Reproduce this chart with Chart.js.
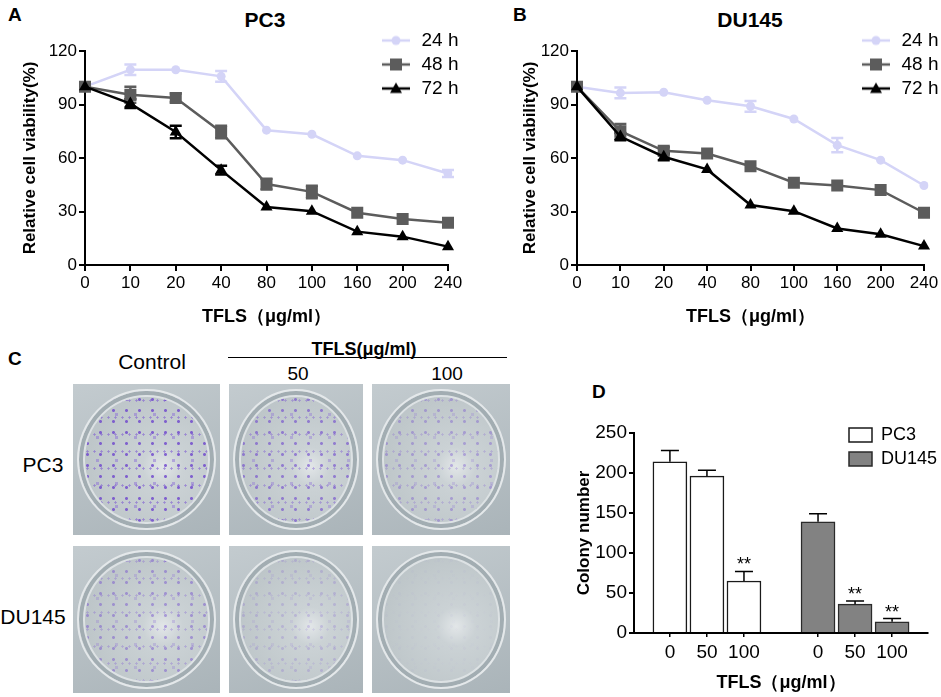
<!DOCTYPE html>
<html>
<head>
<meta charset="utf-8">
<script src="https://cdn.jsdelivr.net/npm/chart.js@4.4.1/dist/chart.umd.min.js"></script>
<style>
  html, body { margin: 0; padding: 0; background: #fff; }
  body { width: 941px; height: 697px; position: relative; overflow: hidden;
         font-family: "Liberation Sans", Arial, sans-serif; color: #000; }
  .box { position: absolute; }
  .txt { position: absolute; line-height: 1; white-space: nowrap; }
  .letter { font-size: 19px; font-weight: bold; }
  .title { font-size: 21px; font-weight: bold; transform: translateX(-50%); }
  .center { transform: translateX(-50%); }
  .photo { position: absolute; overflow: hidden;
           background: linear-gradient(160deg, #c3cbcf, #aab4b9); }
  .dish { position: absolute; left: 3%; top: 3%; width: 94%; height: 94%; border-radius: 50%;
          border: 2px solid #e4e8ea; box-sizing: border-box;
          box-shadow: inset 0 0 0 4px #a2adb2, inset 0 0 0 6px #dde2e4; }
</style>
</head>
<body>

<!-- panel A -->
<div class="txt letter" style="left:8px; top:5px;">A</div>
<div class="txt title" style="left:265px; top:9px;">PC3</div>
<div class="box" style="left:0; top:0; width:470px; height:335px;"><canvas id="chartA"></canvas></div>

<!-- panel B -->
<div class="txt letter" style="left:513px; top:5px;">B</div>
<div class="txt title" style="left:750px; top:9px;">DU145</div>
<div class="box" style="left:500px; top:0; width:441px; height:335px;"><canvas id="chartB"></canvas></div>

<!-- panel C (photographs of colony plates) -->
<div class="txt letter" style="left:8px; top:349px;">C</div>
<div class="txt center" style="left:152px; top:351px; font-size:21px;">Control</div>
<div class="txt center" style="left:364px; top:340px; font-size:18px; font-weight:bold;">TFLS(μg/ml)</div>
<div class="box" style="left:228px; top:357px; width:279px; height:0; border-top:1.5px solid #000;"></div>
<div class="txt center" style="left:298px; top:364px; font-size:19px;">50</div>
<div class="txt center" style="left:447px; top:364px; font-size:19px;">100</div>
<div class="txt center" style="left:43px; top:454px; font-size:21px;">PC3</div>
<div class="txt center" style="left:33px; top:606px; font-size:21px;">DU145</div>
<div id="plates"></div>

<!-- panel D -->
<div class="txt letter" style="left:592px; top:382px;">D</div>
<div class="box" style="left:560px; top:380px; width:381px; height:317px;"><canvas id="chartD"></canvas></div>

<script>
// ---- data: cell viability (%) ----
const doses = ['0', '10', '20', '40', '80', '100', '160', '200', '240'];
const seriesNames = ['24 h', '48 h', '72 h'];

const pc3_24 = [100, 109.5, 109.5, 105.8, 75.6, 73.3, 61.2, 58.8, 51.3];
const pc3_48 = [100, 95.5, 93.7, 74.6, 45.4, 41.0, 29.3, 25.8, 23.7];
const pc3_72 = [100, 90.5, 74.6, 53.2, 32.5, 30.2, 18.7, 15.9, 10.3];
const pc3_24err = [0, 3, 0, 3, 0, 0, 0, 0, 2];
const pc3_48err = [0, 4.5, 2.5, 3.5, 3, 3.5, 0, 0, 0];
const pc3_72err = [0, 2.5, 3.5, 2.5, 0, 0, 0, 0, 0];

const du_24 = [100, 96.5, 96.9, 92.4, 89.0, 81.9, 67.2, 58.8, 44.6];
const du_48 = [100, 75, 64, 62.5, 55.4, 46.1, 44.6, 42.0, 29.3];
const du_72 = [100, 72, 60.7, 53.6, 33.6, 30.2, 20.5, 17.2, 10.6];
const du_24err = [0, 3, 0, 0, 3, 0, 4, 0, 0];
const du_48err = [0, 4, 2, 0, 0, 0, 0, 0, 0];
const du_72err = [0, 2, 2, 0, 0, 0, 0, 0, 0];

const viabilityTicks = [0, 30, 60, 90, 120];

// ---- data: colony formation ----
const colonyDoses = ['0', '50', '100'];
const colonyCells = ['PC3', 'DU145'];
const pc3Colony = [214, 196, 65];
const pc3ColonyErr = [14, 7.5, 12];
const duColony = [139, 36, 14];
const duColonyErr = [10, 4, 4];
const pc3Stars = ['', '', '**'];
const duStars = ['', '**', '**'];

// ---- plates in panel C: relative colony density per photo ----
const plateDensity = [[1.0, 0.75, 0.45], [0.55, 0.25, 0.04]];

const FONT = "'Liberation Sans', Arial, sans-serif";
Chart.defaults.font.family = FONT;
Chart.defaults.color = '#000';
Chart.defaults.animation = false;

const colors = ['#d4d4f7', '#5c5c5c', '#000000'];
const markers = ['circle', 'rect', 'triangle'];
const markerSize = [4.5, 8.5, 7];

// vertical error bars drawn at the data points, through the y scale
const errorBars = {
  id: 'errorBars',
  beforeDatasetsDraw(chart, args, opts) {
    if (opts.upOnly) return;
    drawErrors(chart, opts);
  },
  afterDatasetsDraw(chart, args, opts) {
    if (!opts.upOnly) return;
    drawErrors(chart, opts);
  }
};

function drawErrors(chart, opts) {
  const ctx = chart.ctx;
  const yScale = chart.scales.y;
  chart.data.datasets.forEach((ds, i) => {
    if (!ds.errors) return;
    const meta = chart.getDatasetMeta(i);
    ctx.save();
    ctx.strokeStyle = opts.color || ds.borderColor;
    ctx.lineWidth = opts.lineWidth || 2.5;
    meta.data.forEach((el, j) => {
      const e = ds.errors[j];
      if (!e) return;
      const d = ds.data[j];
      const v = typeof d === 'object' ? d.y : d;
      const top = yScale.getPixelForValue(v + e);
      const bot = yScale.getPixelForValue(opts.upOnly ? v : v - e);
      const w = opts.cap / 2;
      ctx.beginPath();
      ctx.moveTo(el.x, top); ctx.lineTo(el.x, bot);
      ctx.moveTo(el.x - w, top); ctx.lineTo(el.x + w, top);
      if (!opts.upOnly) { ctx.moveTo(el.x - w, bot); ctx.lineTo(el.x + w, bot); }
      ctx.stroke();
      if (ds.stars && ds.stars[j]) {
        ctx.fillStyle = '#000';
        ctx.font = '18px ' + FONT;
        ctx.textAlign = 'center';
        ctx.textBaseline = 'alphabetic';
        ctx.fillText(ds.stars[j], el.x, top - 1);
      }
    });
    ctx.restore();
  });
}

// puts the legend at a fixed spot of the canvas
const placeLegend = {
  id: 'placeLegend',
  afterLayout(chart, args, opts) {
    const lg = chart.legend;
    if (!lg || opts.left === undefined) return;
    const w = lg.width, h = lg.height;
    lg.left = opts.left; lg.top = opts.top;
    lg.right = opts.left + w; lg.bottom = opts.top + h;
  }
};

function legendIcon(i) {
  const c = document.createElement('canvas');
  c.width = 28; c.height = 16;
  const g = c.getContext('2d');
  g.strokeStyle = colors[i];
  g.fillStyle = colors[i];
  g.lineWidth = 2.5;
  g.beginPath(); g.moveTo(0, 8); g.lineTo(28, 8); g.stroke();
  g.beginPath();
  if (markers[i] === 'circle') {
    g.arc(14, 8, 4.5, 0, Math.PI * 2);
  } else if (markers[i] === 'rect') {
    g.rect(8, 2, 12, 12);
  } else {
    g.moveTo(14, 2); g.lineTo(20, 12.5); g.lineTo(8, 12.5); g.closePath();
  }
  g.fill();
  return c;
}
const icons = [0, 1, 2].map(legendIcon);

function viabilityChart(id, values, errors, axisWidth, padRight, legendLeft) {
  const datasets = values.map((vals, i) => ({
    label: seriesNames[i],
    data: vals,
    errors: errors[i],
    borderColor: colors[i],
    backgroundColor: colors[i],
    borderWidth: 2.5,
    pointStyle: markers[i],
    pointRadius: markerSize[i],
    pointBorderWidth: 0,
    pointBackgroundColor: colors[i],
    tension: 0,
    order: 3 - i
  }));
  return new Chart(document.getElementById(id), {
    type: 'line',
    data: { labels: doses, datasets: datasets },
    plugins: [errorBars, placeLegend],
    options: {
      responsive: true,
      maintainAspectRatio: false,
      layout: { padding: { left: 0, top: 51, right: padRight, bottom: 0 } },
      plugins: {
        tooltip: { enabled: false },
        errorBars: { cap: 12, lineWidth: 2.5 },
        placeLegend: { left: legendLeft, top: 26 },
        legend: {
          position: 'chartArea',
          align: 'start',
          labels: {
            usePointStyle: true,
            pointStyleWidth: 32,
            padding: 5,
            font: { size: 19 },
            color: '#000',
            sort: (a, b) => a.datasetIndex - b.datasetIndex,
            generateLabels(chart) {
              const items = Chart.defaults.plugins.legend.labels.generateLabels(chart);
              items.forEach(it => { it.pointStyle = icons[it.datasetIndex]; });
              return items;
            }
          }
        }
      },
      scales: {
        x: {
          type: 'category',
          offset: false,
          afterFit: s => { s.height = 70; },
          grid: { drawOnChartArea: false, drawTicks: true, tickLength: 6, color: '#000', lineWidth: 2 },
          border: { color: '#000', width: 2 },
          ticks: { font: { size: 17 }, padding: 2, maxRotation: 0, autoSkip: false },
          title: { display: true, text: 'TFLS（μg/ml）', font: { size: 18, weight: 'bold' },
                   padding: { top: 0, bottom: 7 } }
        },
        y: {
          min: 0, max: 120,
          afterFit: s => { s.width = axisWidth; },
          afterBuildTicks: s => { s.ticks = viabilityTicks.map(v => ({ value: v })); },
          grid: { drawOnChartArea: false, drawTicks: true, tickLength: 6, color: '#000', lineWidth: 2 },
          border: { color: '#000', width: 2 },
          ticks: { font: { size: 17 }, padding: 2 },
          title: { display: true, text: 'Relative cell viability(%)', font: { size: 17, weight: 'bold' },
                   padding: { top: 20, bottom: 0 } }
        }
      }
    }
  });
}

viabilityChart('chartA', [pc3_24, pc3_48, pc3_72], [pc3_24err, pc3_48err, pc3_72err], 85, 22, 375);
viabilityChart('chartB', [du_24, du_48, du_72], [du_24err, du_48err, du_72err], 77, 17, 355);

// ---- panel D: colony numbers ----
const groupPos = [[0, 1, 2], [4, 5, 6]];
const colonyTickLabels = {};
groupPos.forEach(g => g.forEach((p, k) => { colonyTickLabels[p] = colonyDoses[k]; }));

new Chart(document.getElementById('chartD'), {
  type: 'bar',
  data: {
    datasets: [
      {
        label: colonyCells[0],
        data: pc3Colony.map((v, k) => ({ x: groupPos[0][k], y: v })),
        errors: pc3ColonyErr,
        stars: pc3Stars,
        backgroundColor: '#ffffff',
        borderColor: '#1a1a1a',
        borderWidth: 1.5,
        barThickness: 34,
        grouped: false
      },
      {
        label: colonyCells[1],
        data: duColony.map((v, k) => ({ x: groupPos[1][k], y: v })),
        errors: duColonyErr,
        stars: duStars,
        backgroundColor: '#828282',
        borderColor: '#2a2a2a',
        borderWidth: 1.5,
        barThickness: 34,
        grouped: false
      }
    ]
  },
  plugins: [errorBars, placeLegend],
  options: {
    responsive: true,
    maintainAspectRatio: false,
    layout: { padding: { left: 0, top: 53, right: 13, bottom: 0 } },
    plugins: {
      tooltip: { enabled: false },
      errorBars: { cap: 18, lineWidth: 1.5, upOnly: true, color: '#000' },
      placeLegend: { left: 283, top: 40 },
      legend: {
        position: 'chartArea',
        align: 'start',
        labels: {
          boxWidth: 23,
          boxHeight: 14,
          padding: 6,
          font: { size: 18 },
          color: '#000'
        }
      }
    },
    scales: {
      x: {
        type: 'linear',
        offset: false,
        min: -0.97, max: 6.97,
        afterFit: s => { s.height = 64; },
        afterBuildTicks: s => { s.ticks = Object.keys(colonyTickLabels).map(p => ({ value: Number(p) })); },
        grid: { offset: false, drawOnChartArea: false, drawTicks: true, tickLength: 4, color: '#000', lineWidth: 1.5 },
        border: { color: '#000', width: 2 },
        ticks: { font: { size: 19 }, padding: 4, callback: v => colonyTickLabels[v] },
        title: { display: true, text: 'TFLS（μg/ml）', font: { size: 18, weight: 'bold' },
                 padding: { top: 0, bottom: 3 } }
      },
      y: {
        min: 0, max: 250,
        afterFit: s => { s.width = 74; },
        ticks: { stepSize: 50, font: { size: 19 }, padding: 2 },
        grid: { drawOnChartArea: false, drawTicks: true, tickLength: 5, color: '#000', lineWidth: 2 },
        border: { color: '#000', width: 2 },
        title: { display: true, text: 'Colony number', font: { size: 17, weight: 'bold' },
                 padding: { top: 14, bottom: 0 } }
      }
    }
  }
});

// ---- panel C: plate photos (plain drawing, not chart data) ----
const plateCols = [[73, 147], [229, 134], [372, 138]];
const plateRows = [[384, 151], [546, 147]];
const plates = document.getElementById('plates');
plateRows.forEach((r, ri) => {
  plateCols.forEach((c, ci) => {
    const photo = document.createElement('div');
    photo.className = 'photo';
    photo.style.left = c[0] + 'px';
    photo.style.top = r[0] + 'px';
    photo.style.width = c[1] + 'px';
    photo.style.height = r[1] + 'px';
    const dish = document.createElement('div');
    dish.className = 'dish';
    const a = plateDensity[ri][ci];
    const d1 = 'rgba(110, 70, 205,' + (0.8 * a).toFixed(2) + ')';
    const d2 = 'rgba(125, 90, 210,' + (0.6 * a).toFixed(2) + ')';
    const d3 = 'rgba(140, 110, 215,' + (0.5 * a).toFixed(2) + ')';
    dish.style.backgroundImage =
      'radial-gradient(circle, ' + d1 + ' 1.2px, transparent 1.7px),' +
      'radial-gradient(circle, ' + d2 + ' 0.9px, transparent 1.4px),' +
      'radial-gradient(circle, ' + d3 + ' 1.5px, transparent 2px),' +
      'radial-gradient(circle at 62% 55%, #e2e6e8 0, #cbd2d5 18%, #c0c8cb 60%, #b5bec2 100%)';
    dish.style.backgroundSize = '13px 11px, 7px 17px, 19px 23px, 100% 100%';
    dish.style.backgroundPosition = '2px 3px, 5px 1px, 9px 12px, 0 0';
    photo.appendChild(dish);
    plates.appendChild(photo);
  });
});
</script>
</body>
</html>
